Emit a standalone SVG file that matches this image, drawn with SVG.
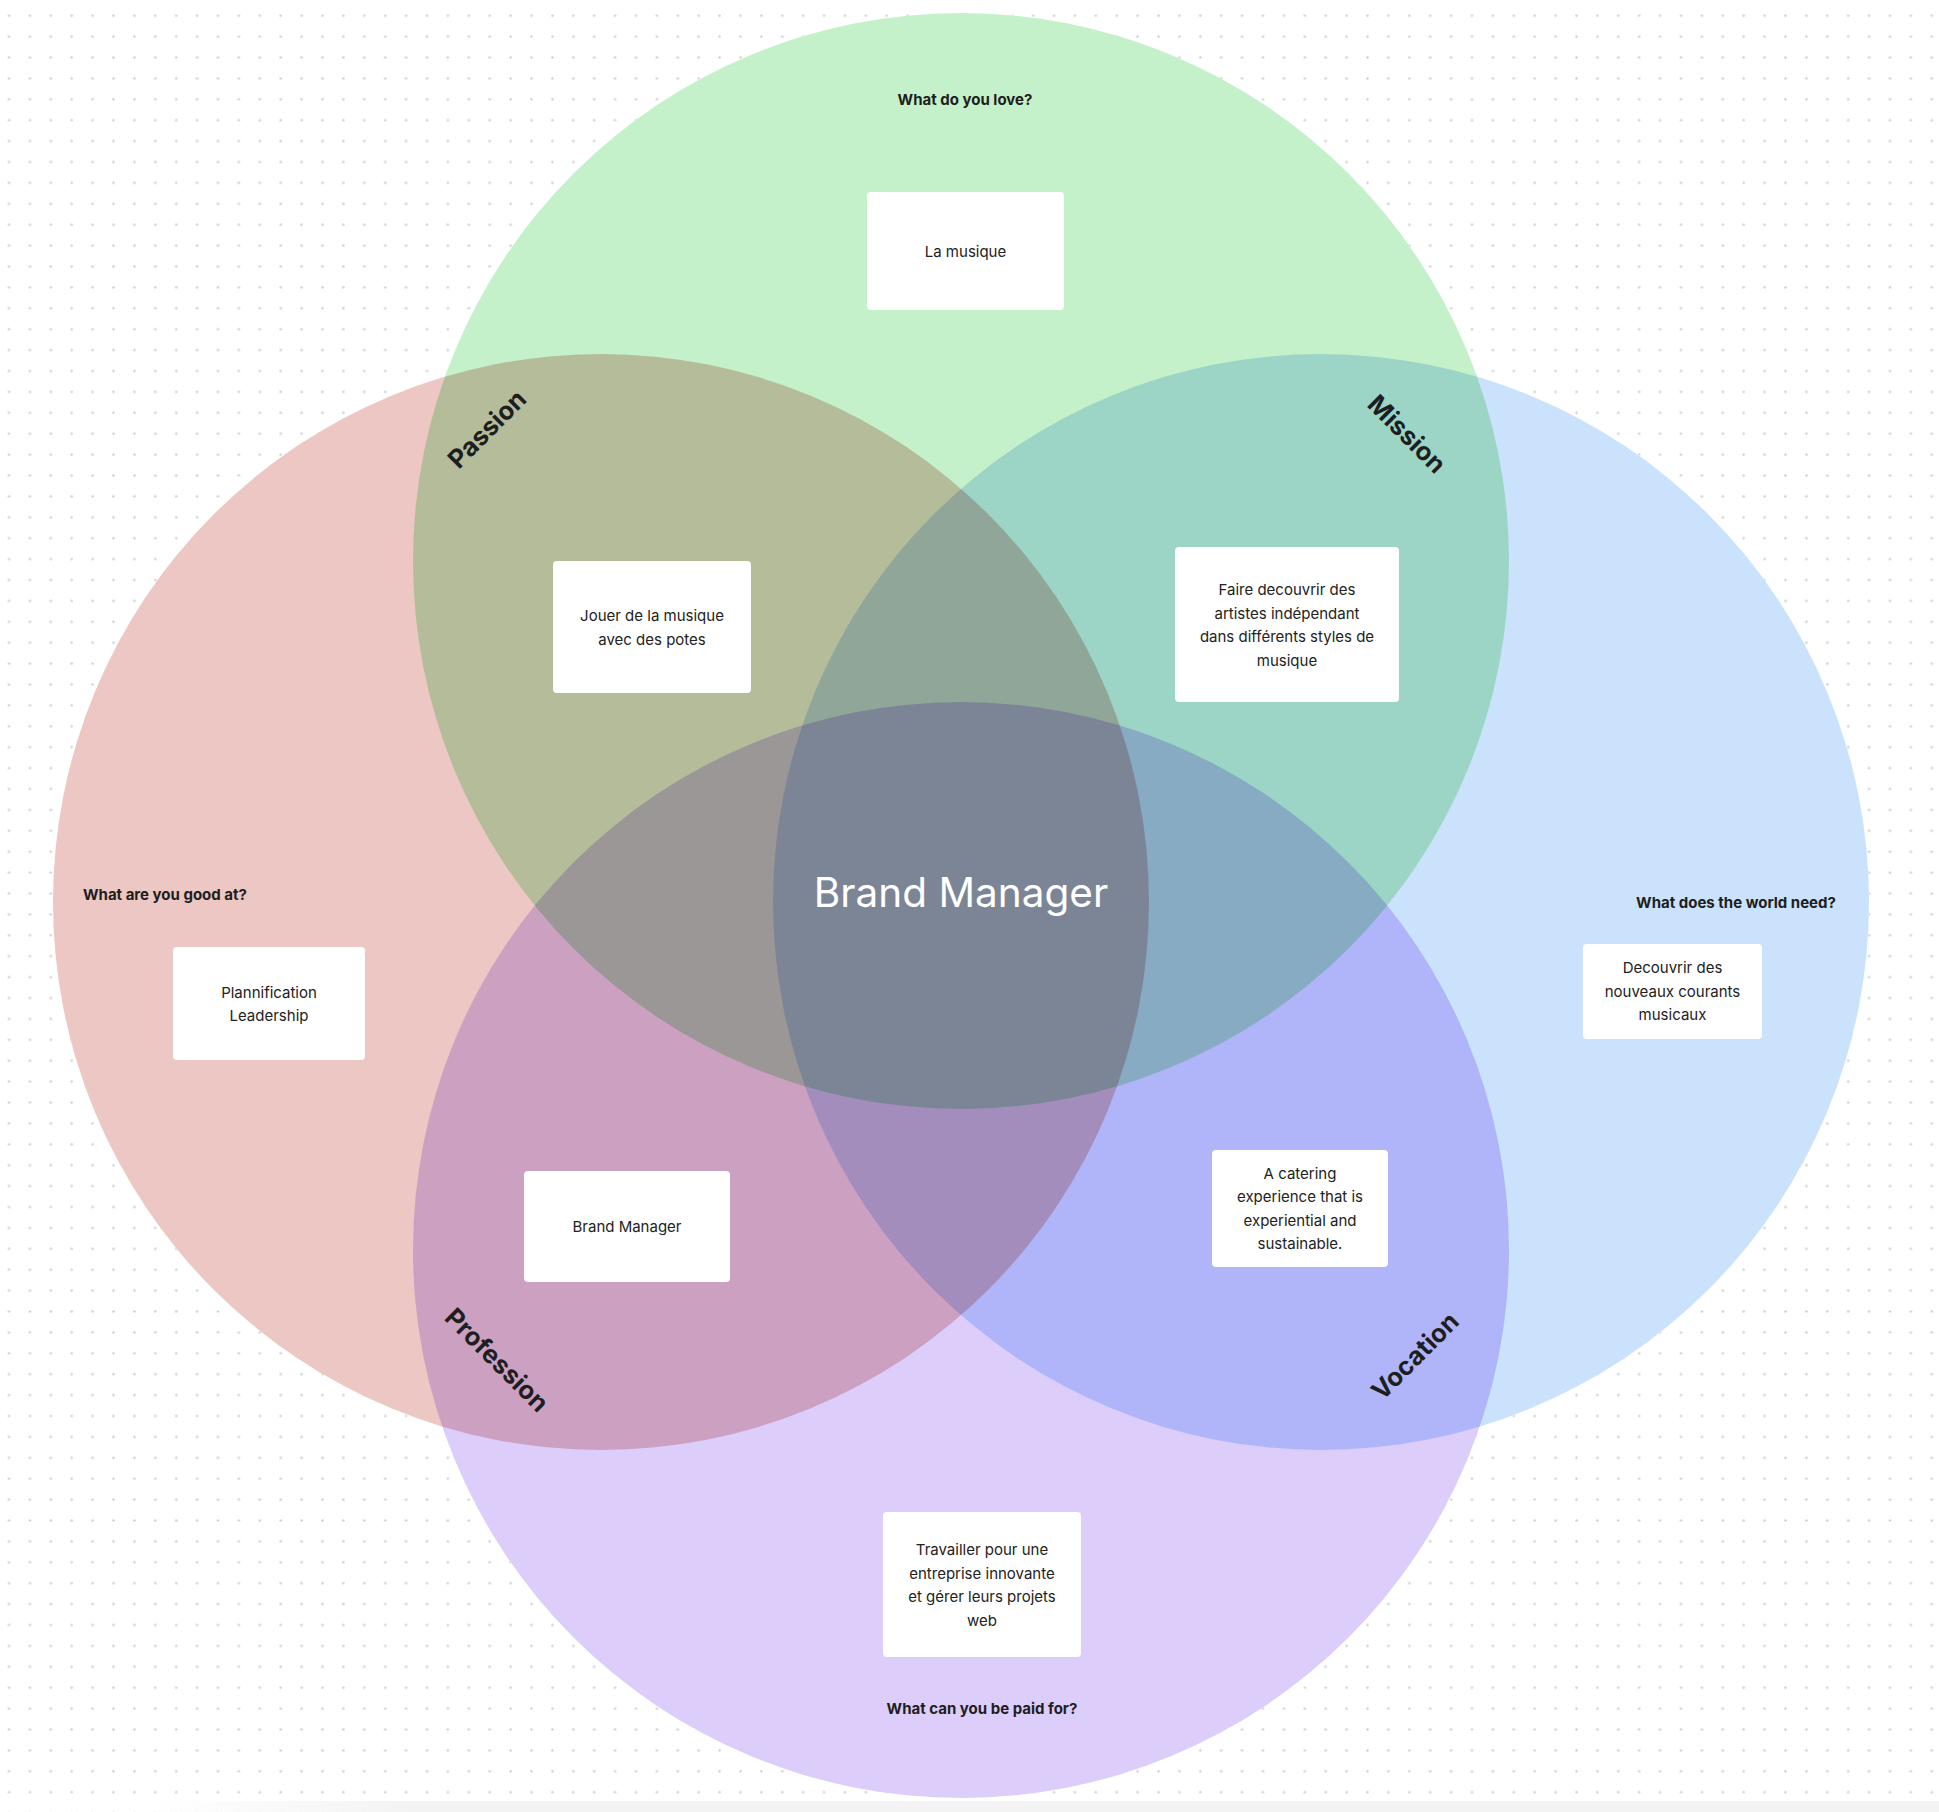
<svg xmlns="http://www.w3.org/2000/svg" width="1939" height="1812" viewBox="0 0 1939 1812">
<defs>
<pattern id="dots" x="-1.45" y="5.25" width="20.9" height="20.9" patternUnits="userSpaceOnUse"><circle cx="10.45" cy="10.45" r="1.2" fill="#cfcfcf"/></pattern>
<linearGradient id="shade" x1="0" y1="0" x2="1" y2="0"><stop offset="0" stop-color="#f3f3f3" stop-opacity="0"/><stop offset="0.15" stop-color="#f3f3f3" stop-opacity="1"/><stop offset="1" stop-color="#f3f3f3" stop-opacity="1"/></linearGradient>
</defs>
<style>
.under{fill:#ffffff}
.blend{mix-blend-mode:multiply}
.card{fill:#ffffff}
.t{font-family:Inter,"Noto Sans","Liberation Sans",sans-serif;font-size:15px;fill:#222222;text-anchor:middle}
.q{font-family:Inter,"Noto Sans","Liberation Sans",sans-serif;font-size:15px;font-weight:700;fill:#1e1e1e}
.lab{font-family:Inter,"Noto Sans","Liberation Sans",sans-serif;font-size:25.5px;font-weight:700;fill:#1e1e1e;text-anchor:middle}
.big{font-family:Inter,"Noto Sans","Liberation Sans",sans-serif;font-size:40.5px;fill:#ffffff;text-anchor:middle}
</style>
<rect width="1939" height="1812" fill="#ffffff"/>
<rect width="1939" height="1812" fill="url(#dots)"/>
<rect x="150" y="1801" width="1789" height="11" fill="url(#shade)"/>

<g id="circles" style="isolation:isolate">
  <circle class="under" cx="961" cy="561" r="548"/>
  <circle class="under" cx="601" cy="902" r="548"/>
  <circle class="under" cx="1321" cy="902" r="548"/>
  <circle class="under" cx="961" cy="1250" r="548"/>
  <g id="love"><circle class="blend" cx="961" cy="561" r="548" fill="#c4f1c9"/></g>
  <g id="good"><circle class="blend" cx="601" cy="902" r="548" fill="#ecc7c3"/></g>
  <g id="need"><circle class="blend" cx="1321" cy="902" r="548" fill="#cbe2fc"/></g>
  <g id="paid"><circle class="blend" cx="961" cy="1250" r="548" fill="#dccdfb"/></g>
</g>

<g id="connectors"></g>

<g id="q-love"><text class="q" x="965" y="105" text-anchor="middle">What do you love?</text></g>
<g id="q-good"><text class="q" x="83" y="900">What are you good at?</text></g>
<g id="q-need"><text class="q" x="1736" y="908" text-anchor="middle">What does the world need?</text></g>
<g id="q-paid"><text class="q" x="982" y="1714" text-anchor="middle">What can you be paid for?</text></g>

<g id="label-passion" transform="translate(487,429) rotate(-45)"><text class="lab" x="0" y="9">Passion</text></g>
<g id="label-mission" transform="translate(1407,434) rotate(45)"><text class="lab" x="0" y="9">Mission</text></g>
<g id="label-profession" transform="translate(497,1360) rotate(45)"><text class="lab" x="0" y="9">Profession</text></g>
<g id="label-vocation" transform="translate(1415,1356) rotate(-45)"><text class="lab" x="0" y="9">Vocation</text></g>

<g id="card-love"><rect class="card" x="867" y="192" width="197" height="118" rx="4"/><text class="t" x="965.5" y="257">La musique</text></g>
<g id="card-passion"><rect class="card" x="553" y="561" width="198" height="132" rx="4"/><text class="t" x="652" y="621">Jouer de la musique</text><text class="t" x="652" y="644.5">avec des potes</text></g>
<g id="card-mission"><rect class="card" x="1175" y="547" width="224" height="155" rx="4"/><text class="t" x="1287" y="595">Faire decouvrir des</text><text class="t" x="1287" y="618.5">artistes indépendant</text><text class="t" x="1287" y="642">dans différents styles de</text><text class="t" x="1287" y="665.5">musique</text></g>
<g id="card-good"><rect class="card" x="173" y="947" width="192" height="113" rx="4"/><text class="t" x="269" y="997.5">Plannification</text><text class="t" x="269" y="1021">Leadership</text></g>
<g id="card-need"><rect class="card" x="1583" y="944" width="179" height="95" rx="4"/><text class="t" x="1672.5" y="973">Decouvrir des</text><text class="t" x="1672.5" y="996.5">nouveaux courants</text><text class="t" x="1672.5" y="1020">musicaux</text></g>
<g id="card-profession"><rect class="card" x="524" y="1171" width="206" height="111" rx="4"/><text class="t" x="627" y="1231.5">Brand Manager</text></g>
<g id="card-vocation"><rect class="card" x="1212" y="1150" width="176" height="117" rx="4"/><text class="t" x="1300" y="1178.5">A catering</text><text class="t" x="1300" y="1202">experience that is</text><text class="t" x="1300" y="1225.5">experiential and</text><text class="t" x="1300" y="1249">sustainable.</text></g>
<g id="card-paid"><rect class="card" x="883" y="1512" width="198" height="145" rx="4"/><text class="t" x="982" y="1555">Travailler pour une</text><text class="t" x="982" y="1578.5">entreprise innovante</text><text class="t" x="982" y="1602">et gérer leurs projets</text><text class="t" x="982" y="1625.5">web</text></g>

<g id="center"><text class="big" x="961" y="907">Brand Manager</text></g>
</svg>
